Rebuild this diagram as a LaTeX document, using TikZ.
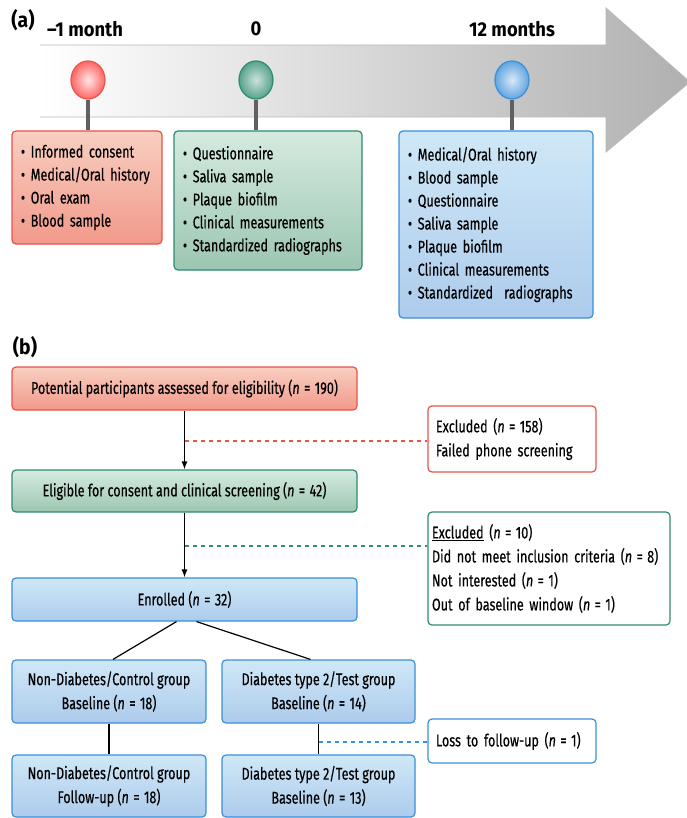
\documentclass[tikz,border=0pt]{standalone}
\usepackage{fontspec}
\setmainfont{Fira Sans}[FakeStretch=0.74, FakeBold=0.4]
\newfontfamily\headfont{Fira Sans}[FakeStretch=0.92]
\usepackage{xcolor}
\usetikzlibrary{arrows.meta,shapes,shapes.geometric}
\usetikzlibrary{positioning}
\definecolor{redline}{HTML}{E8534A}
\definecolor{redtop}{HTML}{F8CFC1}
\definecolor{redbot}{HTML}{F2998A}
\definecolor{greenline}{HTML}{2E8B6F}
\definecolor{greentop}{HTML}{D5EBE0}
\definecolor{greenbot}{HTML}{9CC6B1}
\definecolor{blueline}{HTML}{3A8FD9}
\definecolor{bluetop}{HTML}{CFE8F7}
\definecolor{bluebot}{HTML}{ADCBEC}
\newcommand{\ncount}[1]{\textit{n}\hspace{0.26em}=\hspace{0.26em}#1}

\begin{document}
\begin{tikzpicture}[x=1pt,y=-1pt]
    \tikzstyle{every node}=[inner sep=0pt];
    \tikzstyle{listbox}=[draw, line width=1.2pt, rounded corners=4pt, align=left, inner xsep=9pt, font=\fontsize{17}{23}\selectfont];
    \tikzstyle{flowbox}=[draw, line width=1.2pt, rounded corners=4pt, align=center, font=\fontsize{17}{24}\selectfont];
    \tikzstyle{sidebox}=[draw, fill=white, line width=1.2pt, rounded corners=4pt, align=left, inner xsep=8pt, font=\fontsize{17}{24}\selectfont];
    \tikzstyle{redbox}=[draw=redline, top color=redtop, middle color=white, bottom color=redbot];
    \tikzstyle{greenbox}=[draw=greenline, top color=greentop, middle color=white, bottom color=greenbot];
    \tikzstyle{bluebox}=[draw=blueline, top color=bluetop, middle color=white, bottom color=bluebot];
    \tikzstyle{pinball}=[ellipse, line width=1.2pt, minimum width=34pt, minimum height=38pt, shading=radial];
    \tikzstyle{pinline}=[line width=3.5pt, draw=gray!75!black];
    \tikzstyle{timelabel}=[font=\headfont\fontsize{20}{22}\selectfont\bfseries];
    \tikzstyle{partlabel}=[font=\headfont\fontsize{21}{22}\selectfont\bfseries];
    \tikzstyle{dashline}=[line width=1.3pt, dash pattern=on 4pt off 4pt];
    \useasboundingbox (0,0) rectangle (686,818);

    % timeline
    \shade[left color=white, right color=gray!62] (40,45) -- (606,45) -- (606,8) -- (690,82) -- (606,152) -- (606,117) -- (40,117) -- cycle;
    \draw[gray!55, line width=0.8pt] (40,45) -- (606,45) -- (606,8) -- (690,82) -- (606,152) -- (606,117) -- (40,117);
    \node[partlabel] (parta) at (23,20) {(a)};
    \node[timelabel] (tminus) at (85,29) {–1 month};
    \node[timelabel] (tzero) at (256,29) {0};
    \node[timelabel] (ttwelve) at (512,29) {12 months};

    \node[listbox, redbox, text width=132pt, minimum height=113pt] (consent) at (87,187.5) {
    • Informed consent\\
    • Medical/Oral history\\
    • Oral exam\\
    • Blood sample};
    \node[listbox, greenbox, text width=170pt, minimum height=139pt] (baseline) at (268,200.5) {
    • Questionnaire\\
    • Saliva sample\\
    • Plaque biofilm\\
    • Clinical measurements\\
    • Standardized radiographs};
    \node[listbox, bluebox, text width=176pt, minimum height=187pt] (followup) at (496,224.5) {
    • Medical/Oral history\\
    • Blood sample\\
    • Questionnaire\\
    • Saliva sample\\
    • Plaque biofilm\\
    • Clinical measurements\\
    • Standardized\ \ radiographs};

    \node[pinball, draw=redline, inner color=red!10, outer color=red!60] (pinred) at (88,80) {};
    \node[pinball, draw=greenline, inner color=greenline!25, outer color=greenline!80] (pingreen) at (256,80) {};
    \node[pinball, draw=blueline, inner color=blueline!20, outer color=blueline!80] (pinblue) at (512,80) {};
    \path[pinline] (pinred.south) -- (pinred.south |- consent.north);
    \path[pinline] (pingreen.south) -- (pingreen.south |- baseline.north);
    \path[pinline] (pinblue.south) -- (pinblue.south |- followup.north);

    % flow chart
    \node[partlabel] (partb) at (25,347) {(b)};
    \node[flowbox, redbox, minimum width=345pt, minimum height=43pt] (assess) at (184.5,388.5) {Potential participants assessed for eligibility (\ncount{190})};
    \node[flowbox, greenbox, minimum width=345pt, minimum height=42pt] (eligible) at (184.5,491) {Eligible for consent and clinical screening (\ncount{42})};
    \node[flowbox, bluebox, minimum width=345pt, minimum height=43pt] (enrolled) at (184.5,599.5) {Enrolled (\ncount{32})};
    \node[flowbox, bluebox, minimum width=194pt, minimum height=63pt] (ctrlbase) at (109,691.5) {Non-Diabetes/Control group\\Baseline (\ncount{18})};
    \node[flowbox, bluebox, minimum width=193pt, minimum height=63pt] (testbase) at (318.5,691.5) {Diabetes type 2/Test group\\Baseline (\ncount{14})};
    \node[flowbox, bluebox, minimum width=194pt, minimum height=62pt] (ctrlfollow) at (109,786) {Non-Diabetes/Control group\\Follow-up (\ncount{18})};
    \node[flowbox, bluebox, minimum width=193pt, minimum height=62pt] (testfollow) at (318.5,786) {Diabetes type 2/Test group\\Baseline (\ncount{13})};

    \node[sidebox, draw=redline, text width=152pt, minimum height=66pt] (excla) at (512,439) {Excluded (\ncount{158})\\Failed phone screening};
    \node[sidebox, draw=greenline, text width=234pt, inner xsep=4pt, minimum height=113pt] (exclb) at (549,568.5) {\underline{Excluded} (\ncount{10})\\Did not meet inclusion criteria (\ncount{8})\\Not interested (\ncount{1})\\Out of baseline window (\ncount{1})};
    \node[sidebox, draw=blueline, text width=152pt, minimum height=44pt] (loss) at (512,741) {Loss to follow-up (\ncount{1})};

    \coordinate (reddot) at (184.5,441);
    \coordinate (greendot) at (184.5,546);
    \coordinate (bluedot) at (318.5,742);

    \path[draw] [-{Latex[length=8pt,width=6pt]}, line width=1.2pt] (assess) -- (eligible);
    \path[draw] [-{Latex[length=8pt,width=6pt]}, line width=1.2pt] (eligible) -- (enrolled);
    \path[draw] [line width=1.2pt] ([xshift=-8pt]enrolled.south) -- ([xshift=4pt]ctrlbase.north);
    \path[draw] [line width=1.2pt] ([xshift=12pt]enrolled.south) -- ([xshift=-8pt]testbase.north);
    \path[draw] [line width=1.2pt] (ctrlbase) -- (ctrlfollow);
    \path[draw] [line width=1.2pt] (testbase) -- (testfollow);
    \path[draw] [dashline, redline] (reddot) -- (reddot -| excla.west);
    \path[draw] [dashline, greenline] (greendot) -- (greendot -| exclb.west);
    \path[draw] [dashline, blueline] (bluedot) -- (bluedot -| loss.west);
\end{tikzpicture}
\end{document}
